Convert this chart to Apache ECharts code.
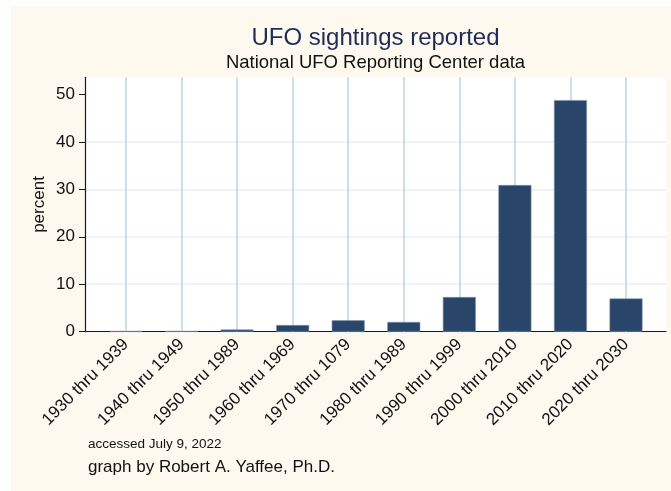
<!DOCTYPE html>
<html>
<head>
<meta charset="utf-8">
<script src="https://cdn.jsdelivr.net/npm/echarts@6/dist/echarts.min.js"></script>
<style>
html,body{margin:0;padding:0;background:#ffffff;}
#wrap{position:absolute;left:11px;top:6px;width:660px;height:485px;background:#fdf9ef;}
#chart{position:absolute;left:0;top:0;width:671px;height:491px;}
</style>
</head>
<body>
<div id="wrap"></div>
<div id="chart"></div>
<script>
const categories = ["1930 thru 1939","1940 thru 1949","1950 thru 1989","1960 thru 1969","1970 thru 1079","1980 thru 1989","1990 thru 1999","2000 thru 2010","2010 thru 2020","2020 thru 2030"];
const percents = [0.15, 0.15, 0.45, 1.4, 2.4, 2.05, 7.3, 30.9, 48.8, 7.0];
const yTicks = [0, 10, 20, 30, 40, 50];
const titleText = "UFO sightings reported";
const subtitleText = "National UFO Reporting Center data";
const note1 = "accessed July 9, 2022";
const note2 = "graph by Robert A. Yaffee, Ph.D.";
const yName = "percent";

const FONT = "'Liberation Sans', Arial, Helvetica, sans-serif";
const TOP = 77.3, BOTTOM = 159.3, PLOT_H = 491 - TOP - BOTTOM;
const YMAX = 53.6;
const chart = echarts.init(document.getElementById('chart'), null, {renderer:'canvas'});
chart.setOption({
  backgroundColor: 'transparent',
  animation: false,
  textStyle: {fontFamily: FONT},
  grid: [
    {left: 85, right: 5, top: TOP, bottom: BOTTOM, show: true, backgroundColor: '#ffffff', borderWidth: 0, outerBoundsMode: 'none'},
    {left: 98.2, right: 17.2, top: TOP, bottom: BOTTOM, show: false, outerBoundsMode: 'none'}
  ],
  xAxis: [
    {
      gridIndex: 0, type: 'value', min: 0, max: 1,
      axisLine: {show: true, onZero: false, lineStyle: {color: '#1a1a1a', width: 1.2}},
      axisTick: {show: false}, axisLabel: {show: false}, splitLine: {show: false}
    },
    {
      gridIndex: 1, type: 'category', data: categories, boundaryGap: true,
      axisLine: {show: false, onZero: false},
      axisTick: {show: true, inside: true, alignWithLabel: true, interval: 0, length: PLOT_H, lineStyle: {color: '#bcd9e8', width: 1.6}},
      axisLabel: {interval: 0, rotate: 45, margin: 10, color: '#111', fontSize: 17, fontFamily: FONT},
      splitLine: {show: false}
    }
  ],
  yAxis: [
    {
      gridIndex: 0, type: 'value', min: 0, max: YMAX, interval: 10,
      name: yName, nameLocation: 'middle', nameGap: 37, nameRotate: 90, nameMoveOverlap: false,
      nameTextStyle: {color: '#111', fontSize: 17, fontFamily: FONT},
      axisLine: {show: true, onZero: false, lineStyle: {color: '#1a1a1a', width: 1.2}},
      axisTick: {show: true, length: 6, customValues: yTicks, lineStyle: {color: '#1a1a1a', width: 1}},
      axisLabel: {customValues: yTicks, margin: 10, color: '#111', fontSize: 17, fontFamily: FONT},
      splitLine: {show: true, showMaxLine: false, lineStyle: {color: '#eaf0f2', width: 1.5}}
    },
    {
      gridIndex: 1, type: 'value', min: 0, max: YMAX, show: false
    }
  ],
  series: [{
    type: 'bar', xAxisIndex: 1, yAxisIndex: 1,
    data: percents,
    barWidth: 33,
    itemStyle: {color: '#29466a', borderColor: '#8093ad', borderWidth: 0.6},
    z: 3
  }],
  graphic: [
    {type: 'text', x: 375.5, y: 38, style: {text: titleText, fill: '#1e2d58', font: '24px ' + FONT, textAlign: 'center', textVerticalAlign: 'middle'}},
    {type: 'text', x: 375.5, y: 63, style: {text: subtitleText, fill: '#111', font: '18.5px ' + FONT, textAlign: 'center', textVerticalAlign: 'middle'}},
    {type: 'text', x: 88, y: 444, style: {text: note1, fill: '#111', font: '13.5px ' + FONT, textAlign: 'left', textVerticalAlign: 'middle'}},
    {type: 'text', x: 88, y: 467, style: {text: note2, fill: '#111', font: '17px ' + FONT, textAlign: 'left', textVerticalAlign: 'middle'}}
  ]
});
</script>
</body>
</html>
